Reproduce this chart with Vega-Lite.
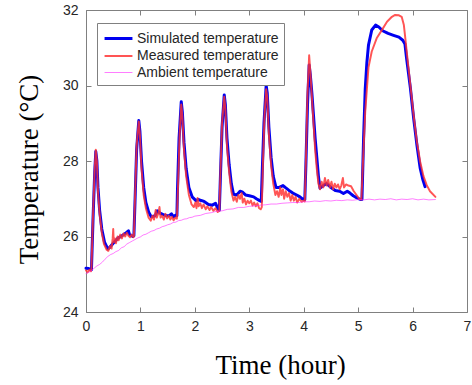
{
  "$schema": "https://vega.github.io/schema/vega-lite/v6.json",
  "width": 381,
  "height": 302,
  "autosize": {"type": "none"},
  "padding": {"left": 86, "top": 10, "right": 5, "bottom": 73},
  "background": "white",
  "config": {
    "view": {"stroke": null},
    "font": "Liberation Sans"
  },
  "data": {
    "format": {"type": "csv", "parse": {"t": "number", "v": "number"}},
    "values": "t,v,s\n0.00,25.16,S\n0.05,25.15,S\n0.10,25.12,S\n0.13,26.5,S\n0.16,27.7,S\n0.18,28.25,S\n0.20,28.0,S\n0.22,27.3,S\n0.25,26.7,S\n0.29,26.2,S\n0.34,25.85,S\n0.40,25.67,S\n0.43,25.70,S\n0.50,25.82,S\n0.58,25.95,S\n0.66,26.02,S\n0.74,26.1,S\n0.78,26.15,S\n0.80,26.05,S\n0.86,26.0,S\n0.88,26.02,S\n0.90,26.9,S\n0.93,28.3,S\n0.97,29.07,S\n0.99,28.8,S\n1.02,28.0,S\n1.06,27.3,S\n1.10,26.9,S\n1.15,26.65,S\n1.20,26.52,S\n1.27,26.55,S\n1.31,26.68,S\n1.36,26.62,S\n1.42,26.58,S\n1.48,26.55,S\n1.53,26.55,S\n1.57,26.6,S\n1.61,26.52,S\n1.64,26.56,S\n1.67,26.55,S\n1.68,27.2,S\n1.71,28.6,S\n1.75,29.57,S\n1.77,29.3,S\n1.80,28.5,S\n1.84,27.8,S\n1.89,27.3,S\n1.95,27.05,S\n2.02,26.95,S\n2.06,26.98,S\n2.10,26.96,S\n2.17,26.93,S\n2.25,26.85,S\n2.32,26.83,S\n2.38,26.88,S\n2.43,26.72,S\n2.45,26.70,S\n2.47,27.6,S\n2.50,28.9,S\n2.54,29.75,S\n2.56,29.5,S\n2.59,28.6,S\n2.63,27.9,S\n2.67,27.4,S\n2.71,27.12,S\n2.77,27.1,S\n2.83,27.2,S\n2.87,27.18,S\n2.93,27.1,S\n3.00,27.08,S\n3.08,27.05,S\n3.13,27.0,S\n3.19,26.95,S\n3.22,26.93,S\n3.24,27.8,S\n3.27,29.0,S\n3.31,30.0,S\n3.33,29.8,S\n3.36,28.9,S\n3.40,28.1,S\n3.44,27.6,S\n3.49,27.3,S\n3.55,27.3,S\n3.62,27.35,S\n3.66,27.3,S\n3.73,27.22,S\n3.80,27.15,S\n3.87,27.1,S\n3.93,27.05,S\n3.97,27.0,S\n4.02,26.98,S\n4.04,27.9,S\n4.07,29.5,S\n4.10,30.54,S\n4.12,30.3,S\n4.15,29.8,S\n4.18,29.2,S\n4.21,28.6,S\n4.24,28.1,S\n4.27,27.6,S\n4.30,27.28,S\n4.36,27.35,S\n4.42,27.4,S\n4.50,27.3,S\n4.58,27.22,S\n4.66,27.2,S\n4.73,27.14,S\n4.80,27.2,S\n4.85,27.15,S\n4.91,27.08,S\n4.97,27.03,S\n5.04,26.98,S\n5.07,26.98,S\n5.10,28.6,S\n5.13,29.9,S\n5.16,30.6,S\n5.19,31.07,S\n5.25,31.47,S\n5.32,31.6,S\n5.38,31.55,S\n5.45,31.45,S\n5.55,31.38,S\n5.65,31.33,S\n5.75,31.28,S\n5.82,31.2,S\n5.86,31.1,S\n5.89,30.72,S\n5.96,29.93,S\n6.02,29.13,S\n6.08,28.42,S\n6.14,27.81,S\n6.19,27.5,S\n6.23,27.32,S\n0.00,25.10,M\n0.03,25.05,M\n0.06,25.12,M\n0.09,25.08,M\n0.10,25.15,M\n0.13,26.6,M\n0.16,27.8,M\n0.18,28.3,M\n0.20,28.0,M\n0.22,27.2,M\n0.25,26.6,M\n0.29,26.1,M\n0.33,25.8,M\n0.38,25.65,M\n0.41,25.62,M\n0.44,25.75,M\n0.47,25.68,M\n0.49,25.95,M\n0.50,26.2,M\n0.51,25.85,M\n0.53,25.95,M\n0.55,25.82,M\n0.58,26.0,M\n0.60,25.9,M\n0.63,26.05,M\n0.66,25.95,M\n0.69,26.08,M\n0.72,26.0,M\n0.75,26.1,M\n0.78,26.02,M\n0.81,25.98,M\n0.84,26.05,M\n0.87,25.98,M\n0.88,26.0,M\n0.90,27.0,M\n0.93,28.4,M\n0.97,29.05,M\n0.99,28.7,M\n1.02,27.8,M\n1.06,27.1,M\n1.10,26.75,M\n1.15,26.5,M\n1.19,26.42,M\n1.22,26.55,M\n1.25,26.45,M\n1.28,26.7,M\n1.30,26.5,M\n1.33,26.62,M\n1.35,26.78,M\n1.37,26.5,M\n1.40,26.55,M\n1.43,26.45,M\n1.46,26.6,M\n1.49,26.48,M\n1.52,26.55,M\n1.55,26.45,M\n1.58,26.52,M\n1.61,26.43,M\n1.64,26.5,M\n1.67,26.47,M\n1.69,27.3,M\n1.72,28.7,M\n1.75,29.5,M\n1.77,29.2,M\n1.80,28.3,M\n1.84,27.6,M\n1.89,27.1,M\n1.94,26.85,M\n1.98,26.78,M\n2.01,26.9,M\n2.03,26.75,M\n2.05,27.02,M\n2.07,26.8,M\n2.10,26.88,M\n2.13,26.75,M\n2.16,26.85,M\n2.20,26.72,M\n2.23,26.8,M\n2.27,26.7,M\n2.30,26.78,M\n2.34,26.68,M\n2.38,26.75,M\n2.42,26.65,M\n2.45,26.68,M\n2.47,27.7,M\n2.50,29.0,M\n2.54,29.7,M\n2.56,29.4,M\n2.59,28.4,M\n2.63,27.7,M\n2.67,27.2,M\n2.71,26.95,M\n2.74,27.05,M\n2.77,26.92,M\n2.80,27.1,M\n2.83,27.0,M\n2.86,27.15,M\n2.88,26.9,M\n2.91,27.0,M\n2.94,26.85,M\n2.97,26.95,M\n3.00,26.88,M\n3.03,26.95,M\n3.06,26.82,M\n3.09,26.9,M\n3.12,26.8,M\n3.15,26.88,M\n3.18,26.75,M\n3.21,26.72,M\n3.23,26.78,M\n3.25,27.9,M\n3.28,29.2,M\n3.31,29.9,M\n3.33,29.7,M\n3.36,28.7,M\n3.40,27.9,M\n3.44,27.4,M\n3.48,27.1,M\n3.51,27.2,M\n3.54,27.05,M\n3.57,27.3,M\n3.59,27.1,M\n3.62,27.25,M\n3.64,27.0,M\n3.67,27.2,M\n3.70,27.05,M\n3.73,27.15,M\n3.76,26.95,M\n3.79,27.1,M\n3.82,26.95,M\n3.85,27.05,M\n3.88,26.9,M\n3.92,27.0,M\n3.96,26.92,M\n4.00,26.95,M\n4.02,26.93,M\n4.04,28.0,M\n4.07,29.8,M\n4.10,30.8,M\n4.12,30.4,M\n4.15,29.7,M\n4.18,29.0,M\n4.21,28.3,M\n4.24,27.8,M\n4.27,27.4,M\n4.30,27.25,M\n4.33,27.45,M\n4.36,27.3,M\n4.39,27.55,M\n4.42,27.35,M\n4.45,27.5,M\n4.48,27.3,M\n4.51,27.45,M\n4.54,27.25,M\n4.57,27.4,M\n4.60,27.3,M\n4.63,27.38,M\n4.66,27.25,M\n4.69,27.35,M\n4.72,27.55,M\n4.74,27.3,M\n4.78,27.38,M\n4.82,27.35,M\n4.87,27.33,M\n4.92,27.2,M\n4.97,27.1,M\n5.02,27.0,M\n5.06,26.98,M\n5.09,28.0,M\n5.13,29.3,M\n5.19,30.48,M\n5.25,30.9,M\n5.34,31.25,M\n5.45,31.5,M\n5.53,31.69,M\n5.62,31.82,M\n5.68,31.87,M\n5.75,31.86,M\n5.80,31.82,M\n5.84,31.6,M\n5.86,31.34,M\n5.90,30.8,M\n5.96,30.0,M\n6.02,29.2,M\n6.08,28.5,M\n6.14,27.98,M\n6.20,27.6,M\n6.26,27.36,M\n6.32,27.2,M\n6.42,27.05,M\n0.00,25.02,A\n0.05,25.05,A\n0.10,25.10,A\n0.15,25.16,A\n0.20,25.22,A\n0.25,25.26,A\n0.30,25.32,A\n0.35,25.40,A\n0.40,25.47,A\n0.45,25.52,A\n0.50,25.55,A\n0.55,25.60,A\n0.60,25.63,A\n0.65,25.70,A\n0.70,25.73,A\n0.75,25.80,A\n0.80,25.84,A\n0.85,25.88,A\n0.90,25.92,A\n0.95,25.96,A\n1.00,25.99,A\n1.05,26.04,A\n1.10,26.06,A\n1.15,26.10,A\n1.20,26.14,A\n1.25,26.16,A\n1.30,26.20,A\n1.35,26.22,A\n1.40,26.26,A\n1.45,26.28,A\n1.50,26.31,A\n1.55,26.33,A\n1.60,26.37,A\n1.65,26.38,A\n1.70,26.42,A\n1.75,26.43,A\n1.80,26.46,A\n1.85,26.47,A\n1.90,26.50,A\n1.95,26.51,A\n2.00,26.54,A\n2.10,26.56,A\n2.20,26.61,A\n2.30,26.63,A\n2.40,26.67,A\n2.50,26.68,A\n2.60,26.72,A\n2.70,26.73,A\n2.80,26.77,A\n2.90,26.77,A\n3.00,26.80,A\n3.10,26.81,A\n3.20,26.83,A\n3.30,26.84,A\n3.40,26.86,A\n3.50,26.86,A\n3.60,26.88,A\n3.70,26.89,A\n3.80,26.90,A\n3.90,26.90,A\n4.00,26.92,A\n4.10,26.92,A\n4.20,26.94,A\n4.30,26.93,A\n4.40,26.95,A\n4.50,26.94,A\n4.60,26.96,A\n4.70,26.95,A\n4.80,26.97,A\n4.90,26.96,A\n5.00,26.98,A\n5.10,26.97,A\n5.20,26.99,A\n5.30,26.97,A\n5.40,26.99,A\n5.50,26.98,A\n5.60,27.00,A\n5.70,26.97,A\n5.80,26.99,A\n5.90,26.98,A\n6.00,27.00,A\n6.10,26.97,A\n6.20,26.99,A\n6.30,26.97,A\n6.42,26.98,A"
  },
  "layer": [
    {
      "mark": {"type": "line", "strokeCap": "round", "strokeJoin": "round"},
      "encoding": {
        "x": {
          "field": "t", "type": "quantitative",
          "scale": {"domain": [0, 7], "nice": false, "zero": false},
          "axis": {
            "orient": "bottom", "values": [0, 1, 2, 3, 4, 5, 6, 7], "grid": false,
            "title": "Time (hour)", "titleFont": "Liberation Serif", "titleFontSize": 27, "titleFontWeight": "normal", "titleColor": "#000000",
            "titleX": 194, "titleY": 61, "titleBaseline": "alphabetic", "titleAnchor": "middle", "titleAlign": "center",
            "labelFont": "Liberation Sans", "labelFontSize": 14, "labelColor": "#262626", "labelPadding": 12,
            "tickSize": -5, "tickColor": "#808080", "domainColor": "#808080", "labelFlush": false
          }
        },
        "y": {
          "field": "v", "type": "quantitative",
          "scale": {"domain": [24, 32], "nice": false, "zero": false},
          "axis": {
            "orient": "left", "values": [24, 26, 28, 30, 32], "grid": false,
            "title": "Temperature (°C)", "titleFont": "Liberation Serif", "titleFontSize": 27, "titleFontWeight": "normal", "titleColor": "#000000",
            "titleX": -49, "titleY": 159, "titleBaseline": "alphabetic", "titleAngle": 270, "titleAlign": "center",
            "labelFont": "Liberation Sans", "labelFontSize": 14, "labelColor": "#262626", "labelPadding": 13,
            "tickSize": -5, "tickColor": "#808080", "domainColor": "#808080", "labelFlush": false
          }
        },
        "color": {
          "field": "s", "type": "nominal",
          "scale": {"domain": ["S", "M", "A"], "range": ["#0000f0", "#ff3030", "#ff22ff"]},
          "legend": {
            "title": null, "orient": "none", "legendX": 11, "legendY": 13,
            "labelExpr": "datum.value == 'S' ? 'Simulated temperature' : datum.value == 'M' ? 'Measured temperature' : 'Ambient temperature'",
            "symbolType": "M-1.55,0H1.55", "symbolSize": 324, "symbolOffset": 6, "rowPadding": 0,
            "labelFont": "Liberation Sans", "labelFontSize": 14, "labelColor": "#262626", "labelOffset": 8,
            "fillColor": "white", "strokeColor": "#808080", "padding": 5
          }
        },
        "strokeWidth": {
          "field": "s", "type": "nominal",
          "scale": {"domain": ["S", "M", "A"], "range": [3, 0.9, 1.8]},
          "legend": null
        },
        "opacity": {
          "field": "s", "type": "nominal",
          "scale": {"domain": ["S", "M", "A"], "range": [1, 0.65, 1]},
          "legend": null
        }
      }
    },
    {
      "mark": {"type": "line", "opacity": 0},
      "encoding": {
        "x": {
          "field": "t", "type": "quantitative",
          "axis": {"orient": "top", "values": [0, 1, 2, 3, 4, 5, 6, 7], "labels": false, "title": null, "grid": false, "tickSize": -5, "tickColor": "#808080", "domainColor": "#808080"}
        },
        "y": {
          "field": "v", "type": "quantitative",
          "axis": {"orient": "right", "values": [24, 26, 28, 30, 32], "labels": false, "title": null, "grid": false, "tickSize": -5, "tickColor": "#808080", "domainColor": "#808080"}
        }
      }
    }
  ],
  "resolve": {"axis": {"x": "independent", "y": "independent"}}
}
